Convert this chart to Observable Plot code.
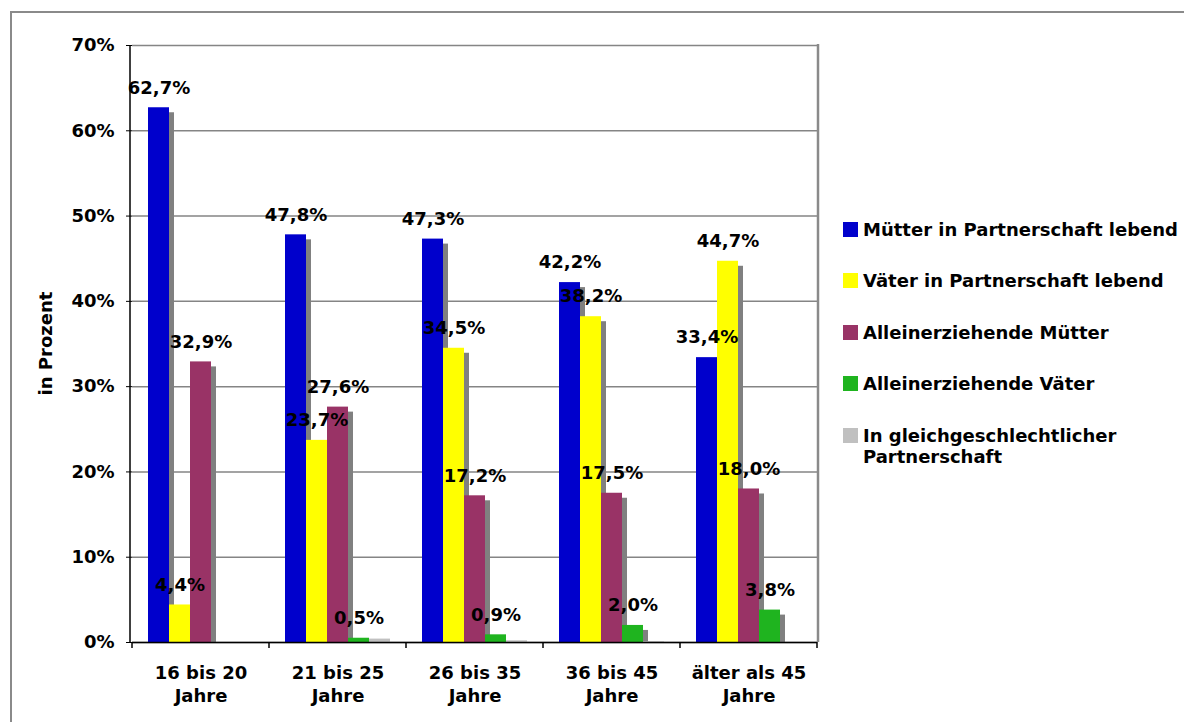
<!DOCTYPE html>
<html>
<head>
<meta charset="utf-8">
<script src="https://cdn.jsdelivr.net/npm/d3@7"></script>
<script src="https://cdn.jsdelivr.net/npm/@observablehq/plot@0.6"></script>
<style>
  body { margin: 0; background: #fff; }
  #wrap { position: relative; width: 1184px; height: 722px; overflow: hidden; background: #fff;
          font-family: "DejaVu Sans", sans-serif; font-weight: bold; color: #000; }
  #chart { position: absolute; left: 0; top: 0; }
  #border { position: absolute; left: 10px; top: 11px; width: 1300px; height: 900px;
            border-left: 2px solid #8a8a8a; border-top: 2px solid #8a8a8a; pointer-events: none; z-index: 2; }
  #legend { position: absolute; left: 843px; top: 0; width: 341px; height: 722px; }
  .item { position: absolute; left: 0; }
  .sw { position: absolute; left: 0; top: 3px; width: 15px; height: 15px; }
  .lbl { position: absolute; left: 20px; top: 0; width: 330px; font-size: 18px; line-height: 21px; font-weight: bold; }
</style>
</head>
<body>
<div id="wrap">
  <div id="chart"></div>
  <div id="legend"></div>
  <div id="border"></div>
</div>
<script>
// ---- data ----
const groups = ["16 bis 20\nJahre", "21 bis 25\nJahre", "26 bis 35\nJahre", "36 bis 45\nJahre", "älter als 45\nJahre"];
const series = [
  "Mütter in Partnerschaft lebend",
  "Väter in Partnerschaft lebend",
  "Alleinerziehende Mütter",
  "Alleinerziehende Väter",
  "In gleichgeschlechtlicher Partnerschaft"
];
const colors = ["#0000cc", "#ffff00", "#993366", "#1fb41f", "#c0c0c0"];
const muetterPartner = [62.7, 47.8, 47.3, 42.2, 33.4];
const vaeterPartner  = [4.4, 23.7, 34.5, 38.2, 44.7];
const alleinMuetter  = [32.9, 27.6, 17.2, 17.5, 18.0];
const alleinVaeter   = [0, 0.5, 0.9, 2.0, 3.8];
const gleichGeschl   = [0, 0.4, 0.2, 0.1, 0];
const labeledSeries  = [true, true, true, true, false];
const yTicks = [0, 10, 20, 30, 40, 50, 60, 70];
const yTitle = "in Prozent";

// ---- build table ----
const seriesValues = [muetterPartner, vaeterPartner, alleinMuetter, alleinVaeter, gleichGeschl];
const rows = [];
series.forEach((s, si) => groups.forEach((g, gi) =>
  rows.push({group: g, series: s, value: seriesValues[si][gi], labeled: labeledSeries[si]})));
const bars = rows.filter(d => d.value > 0);
const shadows = rows.filter(d => d.value >= 1);
const labels = rows.filter(d => d.labeled && d.value > 0);
const fmt = v => d3.format(".1f")(v).replace(".", ",") + "%";

const W = 1184, H = 722;
const plot = Plot.plot({
  width: W, height: H,
  marginLeft: 130, marginRight: 366, marginTop: 45, marginBottom: 80,
  style: "font-family: 'DejaVu Sans', sans-serif; font-size: 18px; font-weight: bold; color: #000; background: transparent; overflow: visible;",
  fx: {domain: groups, padding: 0},
  x: {domain: series, paddingInner: 0, paddingOuter: 0.73, axis: null},
  y: {domain: [0, 70], axis: null},
  color: {domain: series, range: colors},
  marks: [
    Plot.gridY(yTicks, {stroke: "#858585", strokeOpacity: 1, strokeWidth: 1.5}),
    Plot.barY(shadows, {fx: "group", x: "series", y: "value", fill: "#808080", dx: 5, insetTop: 5}),
    Plot.barY(bars, {fx: "group", x: "series", y: "value", fill: "series"}),
    Plot.ruleY([0], {stroke: "#000", strokeWidth: 1.5}),
    Plot.axisY(yTicks, {tickFormat: d => d + "%", tickSize: 6, tickPadding: 12, stroke: "#000", strokeOpacity: 1, label: null, fontSize: 18, fill: "#000"}),
    Plot.axisFx({anchor: "bottom", tickSize: 0, tickPadding: 19, fontSize: 18, lineHeight: 1.33, label: null, fill: "#000"}),
    Plot.text(labels, {fx: "group", x: "series", y: "value", text: d => fmt(d.value), dy: -20,
                       fontSize: 18, fontWeight: "bold", fill: "#000"})
  ]
});
document.getElementById("chart").appendChild(plot);

// ---- axis lines, boundary ticks, plot-area right border, y title ----
const svg = d3.select(plot);
const fxS = plot.scale("fx");
const yS = plot.scale("y");
const left = fxS.range[0], right = fxS.range[1];
const y0 = yS.apply(0), yTop = yS.apply(70);
const g = svg.append("g");
g.append("line").attr("x1", right).attr("x2", right).attr("y1", yTop - 1).attr("y2", y0)
  .attr("stroke", "#8a8a8a").attr("stroke-width", 2.5);
g.append("line").attr("x1", left).attr("x2", left).attr("y1", yTop).attr("y2", y0)
  .attr("stroke", "#000").attr("stroke-width", 1.5);
const edges = groups.map(k => fxS.apply(k)).concat([fxS.apply(groups[groups.length - 1]) + fxS.bandwidth]);
g.selectAll("line.tk").data(edges).join("line").attr("class", "tk")
  .attr("x1", d => d).attr("x2", d => d).attr("y1", y0).attr("y2", y0 + 6)
  .attr("stroke", "#000").attr("stroke-width", 1.5);
g.append("text").text(yTitle)
  .attr("transform", `translate(45,${(yTop + y0) / 2}) rotate(-90)`)
  .attr("text-anchor", "middle").attr("dominant-baseline", "central")
  .attr("font-size", 18).attr("font-weight", "bold").attr("fill", "#000");

// ---- legend ----
const legend = d3.select("#legend");
const items = legend.selectAll("div.item").data(series).join("div").attr("class", "item")
  .style("top", (d, i) => (218.5 + i * 51.5) + "px");
items.append("div").attr("class", "sw").style("background", (d, i) => colors[i]);
items.append("div").attr("class", "lbl").text(d => d);
</script>
</body>
</html>
